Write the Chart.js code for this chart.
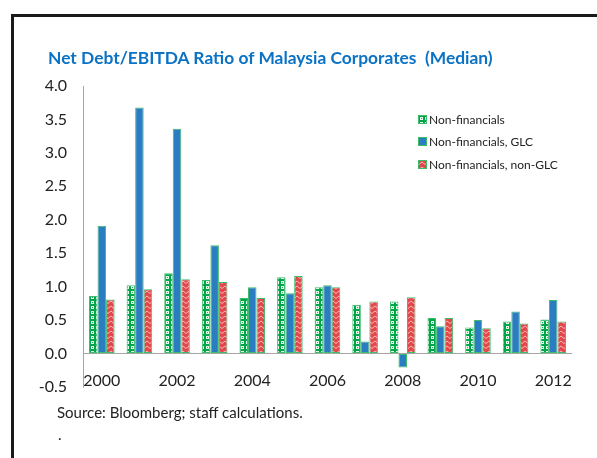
<!DOCTYPE html>
<html>
<head>
<meta charset="utf-8">
<script src="https://cdn.jsdelivr.net/npm/chart.js@4.4.1/dist/chart.umd.min.js"></script>
<style>
  html, body { margin: 0; padding: 0; background: #fff; }
  body { width: 597px; height: 458px; position: relative; overflow: hidden; font-family: Lato, 'Open Sans', sans-serif; }
  #frame { position: absolute; left: 11px; top: 14px; right: -10px; bottom: -10px; border-left: 3px solid #1a1a1a; border-top: 3px solid #1a1a1a; }
  #wrap { position: absolute; left: 0; top: 0; width: 597px; height: 458px; }
  #title { position: absolute; left: 48px; top: 47px; font-size: 17.4px; font-weight: bold; color: #0B72C4; white-space: pre; }
  #legend { position: absolute; left: 418px; top: 108px; font-size: 12px; color: #222; }
  #legend .item { height: 22.5px; display: flex; align-items: center; }
  #legend .sw { width: 7px; height: 7px; border: 1px solid #3DBB6A; margin-right: 2px; }
  #source { position: absolute; left: 57px; top: 403px; font-size: 15px; color: #222; }
  #dot { position: absolute; left: 58px; top: 425px; font-size: 15px; color: #222; }
</style>
</head>
<body>
<div id="frame"></div>
<div id="wrap"><canvas id="c" width="597" height="458"></canvas></div>
<div id="title">Net Debt/EBITDA Ratio of Malaysia Corporates  (Median)</div>
<div id="legend"></div>
<div id="source">Source: Bloomberg; staff calculations.</div>
<div id="dot">.</div>
<script>
const years = ['2000', '2001', '2002', '2003', '2004', '2005', '2006', '2007', '2008', '2009', '2010', '2011', '2012'];
const seriesNames = ['Non-financials', 'Non-financials, GLC', 'Non-financials, non-GLC'];
const nonFin       = [0.86, 1.02, 1.20, 1.10, 0.83, 1.14, 0.99, 0.73, 0.78, 0.53, 0.39, 0.48, 0.51];
const nonFinGLC    = [1.91, 3.68, 3.36, 1.62, 0.99, 0.90, 1.02, 0.18, -0.21, 0.41, 0.50, 0.63, 0.80];
const nonFinNonGLC = [0.81, 0.96, 1.11, 1.07, 0.83, 1.16, 0.99, 0.78, 0.84, 0.53, 0.38, 0.45, 0.48];
const yTicks = [-0.5, 0, 0.5, 1, 1.5, 2, 2.5, 3, 3.5, 4];

// pattern tiles
function circleTile() {
  const t = document.createElement('canvas');
  t.width = 5; t.height = 5;
  const g = t.getContext('2d');
  g.fillStyle = '#00A548';
  g.fillRect(0, 0, 5, 5);
  g.fillStyle = '#e8f8ee';
  g.fillRect(1, 1, 3, 3);
  g.fillStyle = '#1FB05A';
  g.fillRect(2, 2, 1, 1);
  return t;
}
function zigzagTile() {
  const t = document.createElement('canvas');
  t.width = 6; t.height = 5;
  const g = t.getContext('2d');
  g.fillStyle = '#E4474B';
  g.fillRect(0, 0, 6, 5);
  g.strokeStyle = '#F7B9B9';
  g.lineWidth = 1;
  g.beginPath();
  g.moveTo(0, 3.5); g.lineTo(3, 1); g.lineTo(6, 3.5);
  g.stroke();
  return t;
}
const tiles = [circleTile(), null, zigzagTile()];
const blue = '#2A7DC0';

const ctx = document.getElementById('c').getContext('2d');
const fills = [ctx.createPattern(tiles[0], 'repeat'), blue, ctx.createPattern(tiles[2], 'repeat')];

// html legend
const leg = document.getElementById('legend');
seriesNames.forEach((name, i) => {
  const it = document.createElement('div');
  it.className = 'item';
  const sw = document.createElement('span');
  sw.className = 'sw';
  if (tiles[i]) sw.style.backgroundImage = 'url(' + tiles[i].toDataURL() + ')';
  else sw.style.background = blue;
  it.appendChild(sw);
  it.appendChild(document.createTextNode(name));
  leg.appendChild(it);
});

const mk = (label, data, i) => ({
  label, data,
  backgroundColor: fills[i],
  borderColor: '#3DBB6A',
  borderWidth: 1,
  borderSkipped: false,
  categoryPercentage: 0.68,
  barPercentage: 1.0,
});

new Chart(ctx, {
  type: 'bar',
  data: {
    labels: years,
    datasets: [
      mk(seriesNames[0], nonFin, 0),
      mk(seriesNames[1], nonFinGLC, 1),
      mk(seriesNames[2], nonFinNonGLC, 2),
    ],
  },
  options: {
    responsive: false,
    animation: false,
    layout: { padding: { left: 10, right: 25, top: 86, bottom: 67 } },
    plugins: {
      legend: { display: false },
      tooltip: { enabled: false },
    },
    scales: {
      x: {
        grid: { display: false, drawTicks: false },
        border: { display: false },
        afterFit: (s) => { s.height = 4; },
        ticks: {
          autoSkip: false, maxRotation: 0, mirror: true, padding: -3,
          color: '#222', font: { family: 'Lato', size: 16 },
          callback: (v, i) => (i % 2 === 0 ? years[i] : ''),
        },
      },
      y: {
        min: -0.5, max: 4,
        afterFit: (s) => { s.width = 73; },
        afterBuildTicks: (s) => { s.ticks = yTicks.map(v => ({ value: v })); },
        border: { display: true, color: '#A6A6A6', width: 1 },
        grid: {
          drawTicks: false,
          color: (c) => (c.tick && c.tick.value === 0 ? '#A6A6A6' : 'rgba(0,0,0,0)'),
        },
        ticks: {
          padding: 16, color: '#222', font: { family: 'Lato', size: 16 },
          callback: (v) => Number(v).toFixed(1),
        },
      },
    },
  },
});
</script>
</body>
</html>
